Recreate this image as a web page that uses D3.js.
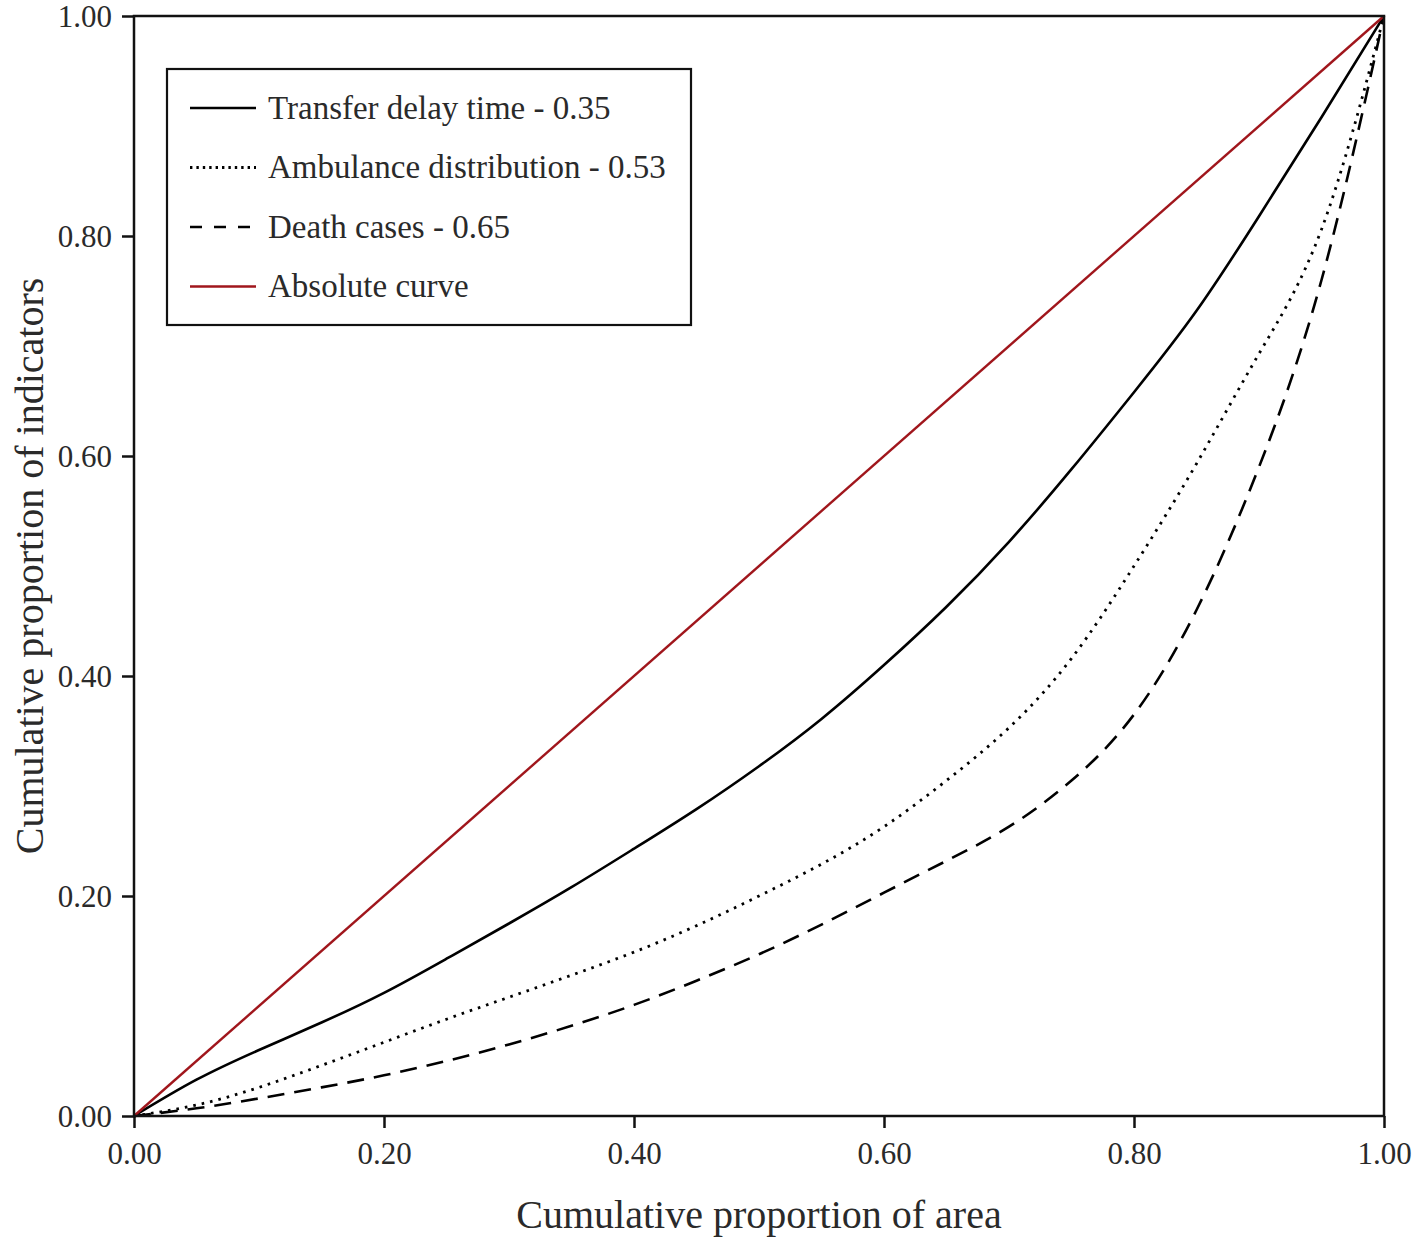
<!DOCTYPE html>
<html>
<head>
<meta charset="utf-8">
<script src="https://cdn.jsdelivr.net/npm/d3@7"></script>
<style>
	body { margin: 0; background: #fff; }
	svg text { font-family: "Liberation Serif", "DejaVu Serif", serif; fill: #2a2a2a; }
</style>
</head>
<body>
<div id="app"></div>
<script>
// cumulative proportion of area (shared x values)
const areaShare = [0, 0.05, 0.10, 0.15, 0.20, 0.25, 0.30, 0.35, 0.40, 0.45, 0.50,
	0.55, 0.60, 0.65, 0.70, 0.75, 0.80, 0.85, 0.90, 0.95, 1.00];

const transferDelay = [0, 0.033, 0.060, 0.085, 0.112, 0.143, 0.175, 0.208, 0.243, 0.279, 0.318,
	0.361, 0.410, 0.463, 0.522, 0.588, 0.658, 0.732, 0.818, 0.908, 1.00];

const ambulanceDist = [0, 0.010, 0.026, 0.046, 0.067, 0.088, 0.108, 0.128, 0.149, 0.173, 0.200,
	0.229, 0.263, 0.305, 0.353, 0.416, 0.500, 0.593, 0.693, 0.806, 1.00];

const deathCases = [0, 0.007, 0.016, 0.026, 0.037, 0.050, 0.065, 0.082, 0.101, 0.123, 0.147,
	0.174, 0.203, 0.232, 0.263, 0.305, 0.365, 0.460, 0.590, 0.760, 1.00];

const absoluteCurve = [0, 1];
const absoluteX = [0, 1];

const seriesNames = ["Transfer delay time - 0.35", "Ambulance distribution - 0.53", "Death cases - 0.65", "Absolute curve"];
const tickValues = [0, 0.2, 0.4, 0.6, 0.8, 1.0];

const config = {
	width: 1416,
	height: 1240,
	margin: { left: 134, top: 16, right: 32, bottom: 124 },
	red: "#a0161c",
	dots: "2.6 6",
	dashes: "17 10",
	legendDashes: "12 12"
};

const plotW = config.width - config.margin.left - config.margin.right;
const plotH = config.height - config.margin.top - config.margin.bottom;

const svg = d3.select("#app").append("svg")
	.attr("width", config.width)
	.attr("height", config.height);

const g = svg.append("g")
	.attr("transform", `translate(${config.margin.left},${config.margin.top})`);

const x = d3.scaleLinear().domain([0, 1]).range([0, plotW]);
const y = d3.scaleLinear().domain([0, 1]).range([plotH, 0]);

// axes
const xAxis = g.append("g")
	.attr("transform", `translate(0,${plotH})`)
	.call(d3.axisBottom(x).tickValues(tickValues).tickFormat(d3.format(".2f")).tickSize(12).tickPadding(14));

const yAxis = g.append("g")
	.call(d3.axisLeft(y).tickValues(tickValues).tickFormat(d3.format(".2f")).tickSize(12).tickPadding(10));

[xAxis, yAxis].forEach(a => {
	a.select(".domain").remove();
	a.selectAll(".tick line").attr("stroke", "#111").attr("stroke-width", 2.5);
	a.selectAll(".tick text")
		.style("font-size", "31px")
		.style("font-family", "'Liberation Serif', serif")
		.attr("fill", "#2a2a2a");
});
yAxis.selectAll(".tick text").attr("dy", "0.34em");

const line = d3.line()
	.x(d => x(d[0]))
	.y(d => y(d[1]))
	.curve(d3.curveNatural);

const series = [
	{ name: seriesNames[0], values: transferDelay, xs: areaShare, color: "#000", dash: null, width: 2.6 },
	{ name: seriesNames[1], values: ambulanceDist, xs: areaShare, color: "#000", dash: config.dots, width: 2.8 },
	{ name: seriesNames[2], values: deathCases, xs: areaShare, color: "#000", dash: config.dashes, width: 2.6 },
	{ name: seriesNames[3], values: absoluteCurve, xs: absoluteX, color: config.red, dash: null, width: 2.4 }
];

g.selectAll("path.series")
	.data(series)
	.enter()
	.append("path")
	.attr("class", "series")
	.attr("fill", "none")
	.attr("stroke", d => d.color)
	.attr("stroke-width", d => d.width)
	.attr("stroke-dasharray", d => d.dash)
	.attr("d", d => line(d.xs.map((v, i) => [v, d.values[i]])));

// frame
g.append("rect")
	.attr("width", plotW)
	.attr("height", plotH)
	.attr("fill", "none")
	.attr("stroke", "#111")
	.attr("stroke-width", 2.5);

// legend
const legend = g.append("g").attr("transform", "translate(33,53)");

legend.append("rect")
	.attr("width", 524)
	.attr("height", 256)
	.attr("fill", "#fff")
	.attr("stroke", "#111")
	.attr("stroke-width", 2.2);

series.forEach((s, i) => {
	const row = legend.append("g").attr("transform", `translate(0,${39 + i * 59.5})`);
	row.append("line")
		.attr("x1", 23).attr("x2", 89)
		.attr("stroke", s.color)
		.attr("stroke-width", s.width)
		.attr("stroke-dasharray", i === 2 ? config.legendDashes : (i === 1 ? "2.4 4" : null));
	row.append("text")
		.attr("x", 101)
		.attr("dy", "0.33em")
		.style("font-size", "33px")
		.text(s.name);
});

// axis titles
svg.append("text")
	.attr("x", config.margin.left + plotW / 2)
	.attr("y", 1228)
	.attr("text-anchor", "middle")
	.style("font-size", "40px")
	.text("Cumulative proportion of area");

svg.append("text")
	.attr("transform", `translate(43,${config.margin.top + plotH / 2}) rotate(-90)`)
	.attr("text-anchor", "middle")
	.style("font-size", "40px")
	.text("Cumulative proportion of indicators");
</script>
</body>
</html>
